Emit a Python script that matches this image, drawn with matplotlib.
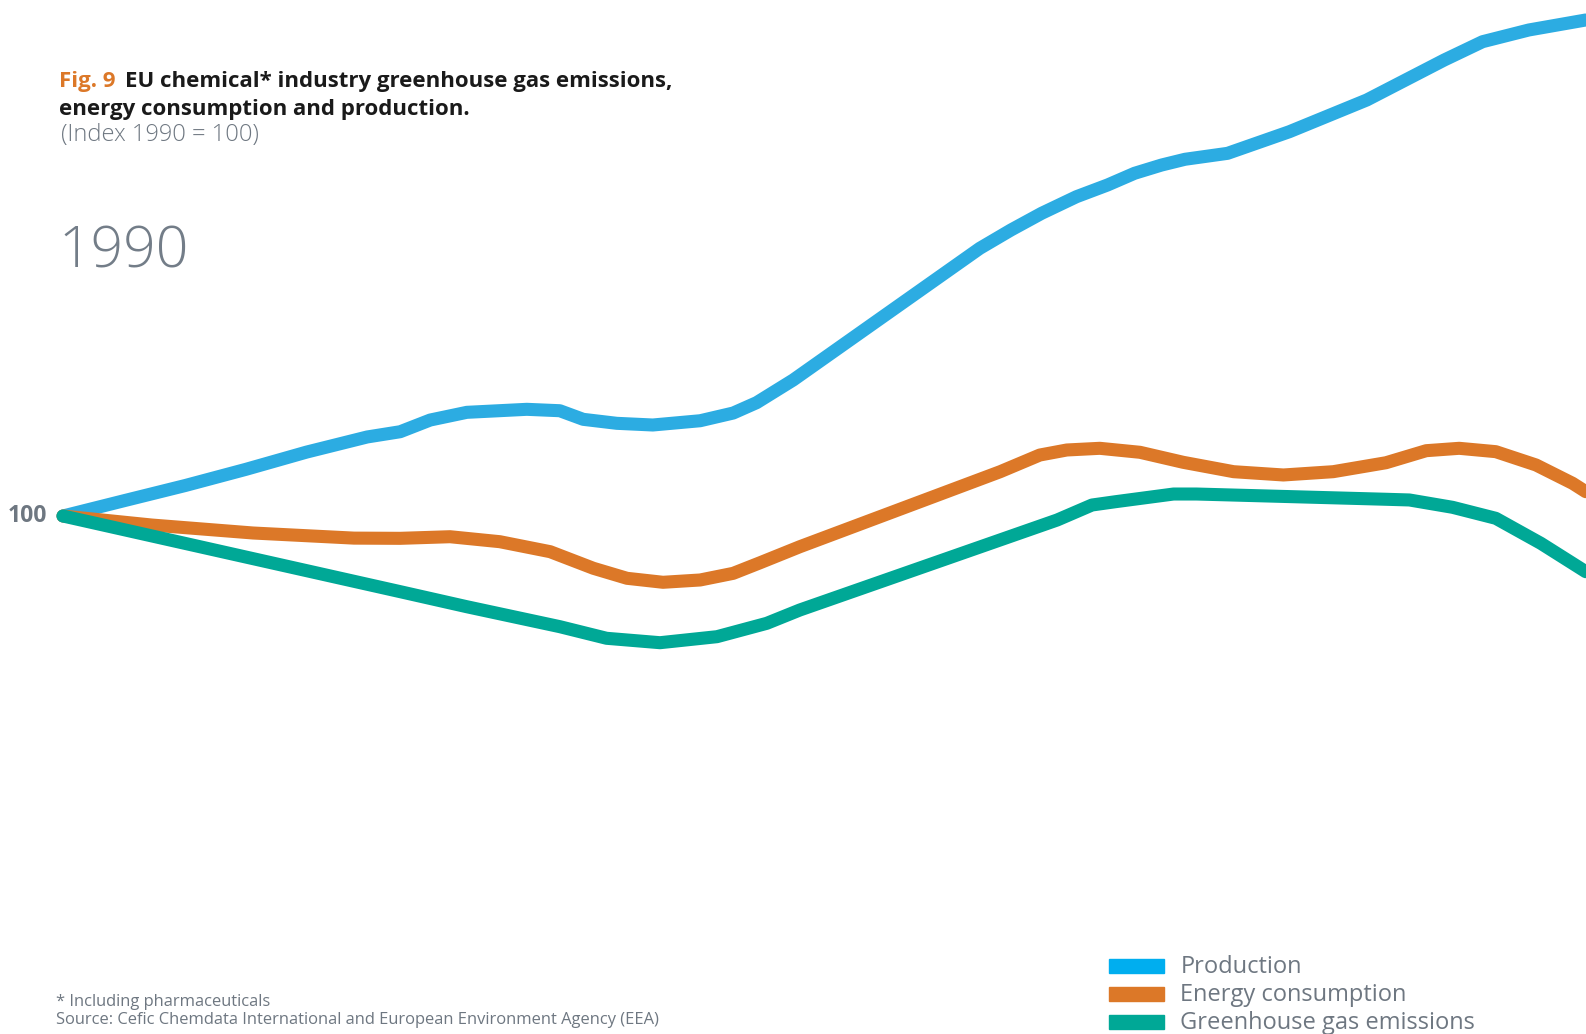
import numpy as np
import matplotlib.pyplot as plt
from matplotlib.patches import Rectangle

# --- Data (index 1990 = 100) ---
prod_years = [1990, 1991.02, 1992.04, 1993.05, 1994.06, 1995.07, 1995.62, 1996.12, 1996.73,
              1997.73, 1998.28, 1998.67, 1999.23, 1999.83, 2000.62, 2001.17, 2001.56, 2002.17,
              2005.28, 2005.80, 2006.31, 2006.89, 2007.41, 2007.86, 2008.31, 2008.70, 2009.41,
              2010.44, 2011.73, 2013.02, 2013.66, 2014.43, 2015.38]
prod_vals = [100, 102.19, 104.36, 106.67, 109.13, 111.29, 112.04, 113.71, 114.81,
             115.24, 115.04, 113.81, 113.24, 113.0, 113.61, 114.71, 116.19, 119.43,
             138.24, 140.86, 143.24, 145.61, 147.29, 148.96, 150.14, 150.96, 151.81,
             154.90, 159.43, 165.14, 167.76, 169.43, 170.86]

energy_years = [1990, 1991.48, 1993.17, 1994.85, 1995.62, 1996.45, 1997.28, 1998.12, 1998.84,
                1999.40, 2000.00, 2000.62, 2001.17, 2001.62, 2002.28, 2005.62, 2006.28,
                2006.73, 2007.28, 2007.95, 2008.67, 2009.51, 2010.34, 2011.17, 2012.05,
                2012.72, 2013.27, 2013.88, 2014.55, 2015.16, 2015.38]
energy_vals = [100, 98.71, 97.57, 96.84, 96.81, 97.04, 96.33, 94.9, 92.53,
               91.1, 90.53, 90.86, 91.81, 93.33, 95.61, 106.33, 108.71,
               109.43, 109.67, 109.10, 107.67, 106.33, 105.86, 106.33, 107.61,
               109.33, 109.67, 109.19, 107.29, 104.67, 103.47]

ghg_years = [1990, 1995.62, 1996.73, 1998.28, 1999.06, 1999.95, 2000.90, 2001.73, 2002.28,
             2006.57, 2007.15, 2007.54, 2008.51, 2008.89, 2012.05, 2012.44, 2013.16,
             2013.88, 2014.63, 2015.38]
ghg_vals = [100, 89.19, 87.04, 84.19, 82.53, 81.90, 82.76, 84.67, 86.57,
            99.43, 101.57, 102.04, 103.14, 103.14, 102.39, 102.29, 101.24,
            99.67, 96.10, 92.04]

series = [
    ("Production", prod_years, prod_vals, "#2CACE2", "#00AEEF"),
    ("Energy consumption", energy_years, energy_vals, "#DC7828", "#DC7828"),
    ("Greenhouse gas emissions", ghg_years, ghg_vals, "#00A896", "#00A896"),
]

W, H = 1568, 1022  # layout units for the text blocks
FONT = "Open Sans"
GREY = "#6E7781"


def fx(x):
    return x / W


def fy(y):
    return 1 - y / H


fig = plt.figure(figsize=(15.86, 10.34), dpi=100)
ax = fig.add_axes([0, 0, 1, 1])
# 1990 sits at x=63 px, 60 px per year; index 100 at y=516 px, 7 px per point
ax.set_xlim(1990 - 63 / 60, 1990 + (1586 - 63) / 60)
ax.set_ylim(100 - (1034 - 516) / 7, 100 + 516 / 7)
ax.axis("off")

for name, yrs, vals, col, _ in series:
    ax.plot(yrs, vals, color=col, lw=9.4, solid_capstyle="round",
            solid_joinstyle="round")

ax.text(1990 - 63 / 60 + 8 / 60, 100, "100", fontsize=16.5, fontweight="bold",
        color=GREY, family=FONT, va="center", ha="left")

# --- Title block ---
fig.text(fx(58), fy(81), "Fig. 9", color="#DC7828", fontsize=16, fontweight="bold",
         family=FONT, va="center")
fig.text(fx(124), fy(81), "EU chemical* industry greenhouse gas emissions,", color="#1A1A1A",
         fontsize=16, fontweight="bold", family=FONT, va="center")
fig.text(fx(58), fy(108), "energy consumption and production.", color="#1A1A1A",
         fontsize=16, fontweight="bold", family=FONT, va="center")
fig.text(fx(60), fy(133), "(Index 1990 = 100)", color=GREY, fontsize=17,
         family=FONT, fontweight="light", va="center")

fig.text(fx(58), fy(250), "1990", color="#737D88", fontsize=41, family=FONT,
         fontweight="light", va="center")

# --- Legend ---
for i, (name, _, _, _, lcol) in enumerate(series):
    y = 955 + i * 27.5
    fig.add_artist(Rectangle((fx(1096), fy(y + 7)), 55 / W, 14 / H, color=lcol,
                             transform=fig.transFigure))
    fig.text(fx(1167), fy(y + 1), name, color=GREY, fontsize=17, family=FONT,
             va="center")

# --- Footnote ---
fig.text(fx(55), fy(990), "* Including pharmaceuticals", color=GREY, fontsize=11.9,
         family=FONT, va="center")
fig.text(fx(55), fy(1008), "Source: Cefic Chemdata International and European Environment Agency (EEA)",
         color=GREY, fontsize=11.9, family=FONT, va="center")

fig.savefig("out.png", dpi=100, facecolor="white")
